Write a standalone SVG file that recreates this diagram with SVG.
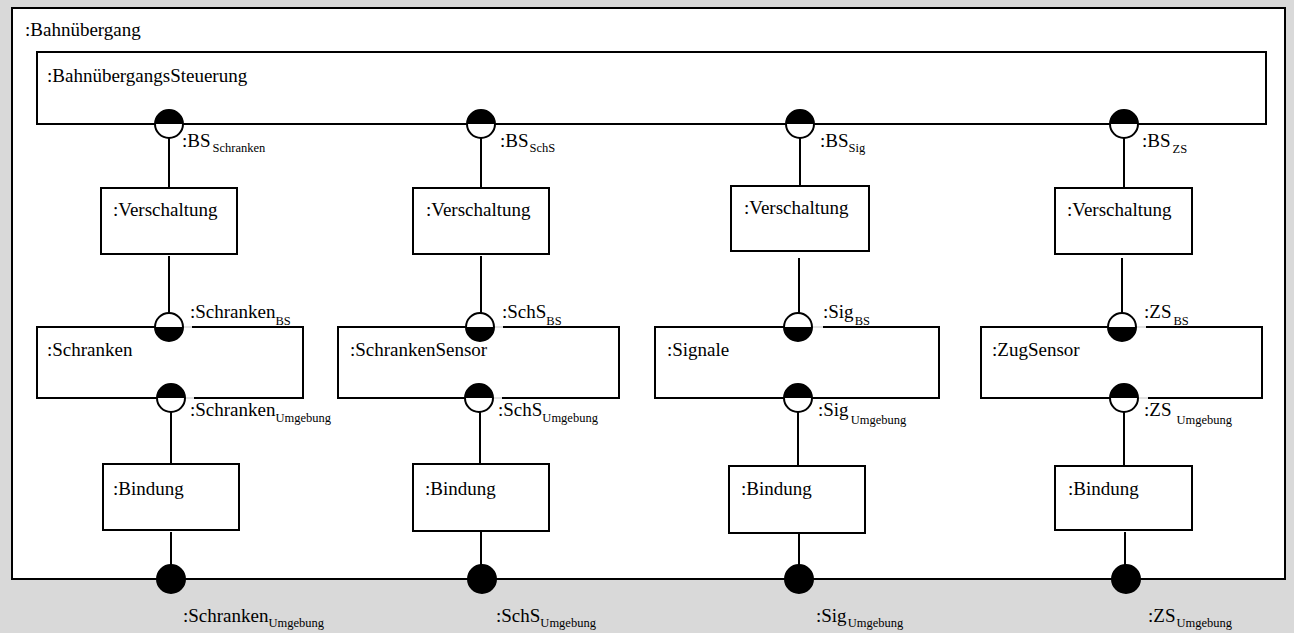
<svg xmlns="http://www.w3.org/2000/svg" xmlns:xlink="http://www.w3.org/1999/xlink" width="1294" height="633" viewBox="0 0 1294 633" font-family="'Liberation Serif', 'Times New Roman', 'DejaVu Serif', serif">
  <style>
    .bg { fill: #d9d9d9; }
    .frame { fill: #ffffff; stroke: #000000; stroke-width: 2; }
    .part { fill: #ffffff; stroke: #000000; stroke-width: 2; }
    .wire { stroke: #000000; stroke-width: 2; fill: none; }
    .gap { fill: #ffffff; stroke: none; }
    .gapline { stroke: #c4c4c4; stroke-width: 1; }
    text { font-family: 'Liberation Serif', 'Times New Roman', 'DejaVu Serif', serif; fill: #000000; }
    .name { font-size: 19px; }
    .lbl { font-size: 19px; }
    .sub { font-size: 12.5px; }
  </style>
  <defs>
    <!-- port with the half inside the owning part filled: upper half filled -->
    <g id="portTopFilled">
      <circle cx="0" cy="0" r="14" fill="#ffffff" stroke="#000000" stroke-width="2"/>
      <path d="M -14 0 A 14 14 0 0 1 14 0 Z" fill="#000000"/>
    </g>
    <!-- port with the lower half filled -->
    <g id="portBottomFilled">
      <circle cx="0" cy="0" r="14" fill="#ffffff" stroke="#000000" stroke-width="2"/>
      <path d="M -14 0 A 14 14 0 0 0 14 0 Z" fill="#000000"/>
    </g>
    <!-- boundary port of the enclosing part -->
    <g id="portFull">
      <circle cx="0" cy="0" r="14" fill="#000000" stroke="#000000" stroke-width="2"/>
    </g>
  </defs>

  <rect class="bg" x="0" y="0" width="1294" height="633"/>

  <!-- enclosing part -->
  <g id="bahnuebergang">
    <rect class="frame" x="12" y="8" width="1273" height="571"/>
    <text class="name" x="25" y="36">:Bahnübergang</text>
  </g>

  <!-- connectors -->
  <g id="connectors">
    <!-- Schranken column -->
    <line class="wire" x1="169" y1="138" x2="169" y2="188"/>
    <line class="wire" x1="169" y1="256" x2="169" y2="313"/>
    <line class="wire" x1="171" y1="412" x2="171" y2="464"/>
    <line class="wire" x1="171" y1="532" x2="171" y2="566"/>
    <!-- SchrankenSensor column -->
    <line class="wire" x1="481" y1="138" x2="481" y2="188"/>
    <line class="wire" x1="481" y1="256" x2="481" y2="313"/>
    <line class="wire" x1="480" y1="412" x2="480" y2="464"/>
    <line class="wire" x1="481" y1="532" x2="481" y2="566"/>
    <!-- Signale column -->
    <line class="wire" x1="800" y1="138" x2="800" y2="187"/>
    <line class="wire" x1="799" y1="258" x2="799" y2="313"/>
    <line class="wire" x1="798" y1="412" x2="798" y2="466"/>
    <line class="wire" x1="799" y1="534" x2="799" y2="566"/>
    <!-- ZugSensor column -->
    <line class="wire" x1="1124" y1="138" x2="1124" y2="188"/>
    <line class="wire" x1="1122" y1="258" x2="1122" y2="313"/>
    <line class="wire" x1="1124" y1="412" x2="1124" y2="466"/>
    <line class="wire" x1="1125" y1="532" x2="1125" y2="566"/>
  </g>

  <!-- controller -->
  <g id="steuerung">
    <rect class="part" x="37" y="52" width="1229" height="72"/>
    <text class="name" x="47" y="82">:BahnübergangsSteuerung</text>
    <use xlink:href="#portTopFilled" x="169" y="124"/>
    <use xlink:href="#portTopFilled" x="481" y="124"/>
    <use xlink:href="#portTopFilled" x="800" y="124"/>
    <use xlink:href="#portTopFilled" x="1124" y="124"/>
    <text class="lbl" x="182" y="147">:BS<tspan class="sub" dx="2" dy="5">Schranken</tspan></text>
    <text class="lbl" x="500" y="147">:BS<tspan class="sub" dx="1" dy="5">SchS</tspan></text>
    <text class="lbl" x="820" y="147">:BS<tspan class="sub" dx="0" dy="5">Sig</tspan></text>
    <text class="lbl" x="1142" y="147">:BS<tspan class="sub" dx="2" dy="6">ZS</tspan></text>
  </g>

  <!-- wiring parts -->
  <g id="verschaltung1">
    <rect class="part" x="101" y="188" width="136" height="66"/>
    <text class="name" x="113" y="216">:Verschaltung</text>
  </g>
  <g id="verschaltung2">
    <rect class="part" x="413" y="188" width="136" height="66"/>
    <text class="name" x="426" y="216">:Verschaltung</text>
  </g>
  <g id="verschaltung3">
    <rect class="part" x="731" y="186" width="138" height="65"/>
    <text class="name" x="744" y="214">:Verschaltung</text>
  </g>
  <g id="verschaltung4">
    <rect class="part" x="1055" y="188" width="137" height="66"/>
    <text class="name" x="1067" y="216">:Verschaltung</text>
  </g>

  <!-- devices -->
  <g id="schranken">
    <rect class="part" x="37" y="327" width="266" height="71"/>
    <text class="name" x="47" y="356">:Schranken</text>
    <rect class="gap" x="183" y="325" width="9" height="4"/>
    <line class="gapline" x1="183" y1="327" x2="192" y2="327"/>
    <rect class="gap" x="185" y="396" width="9" height="4"/>
    <line class="gapline" x1="185" y1="398" x2="194" y2="398"/>
    <use xlink:href="#portBottomFilled" x="169" y="327"/>
    <use xlink:href="#portTopFilled" x="171" y="398"/>
    <text class="lbl" x="190" y="318">:Schranken<tspan class="sub" dy="7">BS</tspan></text>
    <text class="lbl" x="190" y="416">:Schranken<tspan class="sub" dy="6">Umgebung</tspan></text>
  </g>
  <g id="schrankensensor">
    <rect class="part" x="338" y="327" width="281" height="71"/>
    <text class="name" x="350" y="356">:SchrankenSensor</text>
    <rect class="gap" x="494" y="325" width="9" height="4"/>
    <line class="gapline" x1="494" y1="327" x2="503" y2="327"/>
    <rect class="gap" x="493" y="396" width="9" height="4"/>
    <line class="gapline" x1="493" y1="398" x2="502" y2="398"/>
    <use xlink:href="#portBottomFilled" x="480" y="327"/>
    <use xlink:href="#portTopFilled" x="479" y="398"/>
    <text class="lbl" x="502" y="318">:SchS<tspan class="sub" dy="7">BS</tspan></text>
    <text class="lbl" x="498" y="416">:SchS<tspan class="sub" dy="6">Umgebung</tspan></text>
  </g>
  <g id="signale">
    <rect class="part" x="655" y="327" width="284" height="71"/>
    <text class="name" x="667" y="356">:Signale</text>
    <rect class="gap" x="812" y="325" width="11" height="4"/>
    <line class="gapline" x1="812" y1="327" x2="823" y2="327"/>
    <use xlink:href="#portBottomFilled" x="798" y="327"/>
    <use xlink:href="#portTopFilled" x="798" y="398"/>
    <text class="lbl" x="823" y="318">:Sig<tspan class="sub" dx="1" dy="7">BS</tspan></text>
    <text class="lbl" x="818" y="416">:Sig<tspan class="sub" dx="2" dy="8">Umgebung</tspan></text>
  </g>
  <g id="zugsensor">
    <rect class="part" x="981" y="327" width="281" height="71"/>
    <text class="name" x="992" y="356">:ZugSensor</text>
    <rect class="gap" x="1136" y="325" width="10" height="4"/>
    <line class="gapline" x1="1136" y1="327" x2="1146" y2="327"/>
    <rect class="gap" x="1138" y="396" width="10" height="4"/>
    <line class="gapline" x1="1138" y1="398" x2="1148" y2="398"/>
    <use xlink:href="#portBottomFilled" x="1122" y="327"/>
    <use xlink:href="#portTopFilled" x="1124" y="398"/>
    <text class="lbl" x="1144" y="318">:ZS<tspan class="sub" dx="2" dy="7">BS</tspan></text>
    <text class="lbl" x="1144" y="416">:ZS<tspan class="sub" dx="5" dy="8">Umgebung</tspan></text>
  </g>

  <!-- binding parts -->
  <g id="bindung1">
    <rect class="part" x="103" y="464" width="136" height="66"/>
    <text class="name" x="113" y="495">:Bindung</text>
  </g>
  <g id="bindung2">
    <rect class="part" x="413" y="464" width="136" height="67"/>
    <text class="name" x="425" y="495">:Bindung</text>
  </g>
  <g id="bindung3">
    <rect class="part" x="729" y="466" width="136" height="67"/>
    <text class="name" x="741" y="495">:Bindung</text>
  </g>
  <g id="bindung4">
    <rect class="part" x="1055" y="466" width="137" height="64"/>
    <text class="name" x="1068" y="495">:Bindung</text>
  </g>

  <!-- boundary ports of the enclosing part -->
  <g id="umgebungsports">
    <use xlink:href="#portFull" x="171" y="579"/>
    <use xlink:href="#portFull" x="482" y="579"/>
    <use xlink:href="#portFull" x="799" y="579"/>
    <use xlink:href="#portFull" x="1126" y="579"/>
    <text class="lbl" x="183" y="622">:Schranken<tspan class="sub" dy="5">Umgebung</tspan></text>
    <text class="lbl" x="496" y="622">:SchS<tspan class="sub" dy="5">Umgebung</tspan></text>
    <text class="lbl" x="816" y="622">:Sig<tspan class="sub" dx="1" dy="5">Umgebung</tspan></text>
    <text class="lbl" x="1148" y="622">:ZS<tspan class="sub" dx="1" dy="5">Umgebung</tspan></text>
  </g>
</svg>
